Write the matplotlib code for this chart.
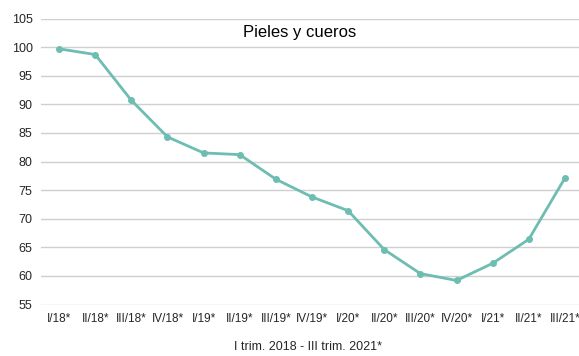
import matplotlib.pyplot as plt

plt.rcParams['font.family'] = ['Liberation Sans', 'DejaVu Sans']

# Quarterly index, leather and hides
quarters = ["I/18*", "II/18*", "III/18*", "IV/18*", "I/19*", "II/19*", "III/19*",
            "IV/19*", "I/20*", "II/20*", "III/20*", "IV/20*", "I/21*", "II/21*", "III/21*"]
index_values = [99.7, 98.7, 90.7, 84.3, 81.5, 81.2, 76.9,
                73.8, 71.4, 64.6, 60.4, 59.2, 62.2, 66.4, 77.1]
y_ticks = [55, 60, 65, 70, 75, 80, 85, 90, 95, 100, 105]

fig = plt.figure(figsize=(5.79, 3.56), dpi=100)
ax = fig.add_axes([41 / 579, 51.5 / 356, 538 / 579, 286 / 356])

x = list(range(len(quarters)))
ax.plot(x, index_values, color="#6dbdb2", linewidth=2, marker="o",
        markersize=4, zorder=3)

ax.set_xlim(-0.5, 14.39)
ax.set_ylim(55, 105)
ax.set_yticks(y_ticks)
ax.set_xticks(x)
ax.set_xticklabels(quarters, fontsize=8.5, color="#262626")
ax.tick_params(axis="y", labelsize=9, colors="#262626", length=0, pad=6)
ax.tick_params(axis="x", length=0, pad=6)
ax.grid(axis="y", color="#cfcfcf", linewidth=1)
ax.set_axisbelow(True)
for side in ax.spines.values():
    side.set_visible(False)

fig.text(300 / 579, 1 - 32 / 356, "Pieles y cueros", ha="center", va="center",
         fontsize=12, color="#000000")
fig.text(308 / 579, 1 - 347 / 356, "I trim. 2018 - III trim. 2021*", ha="center",
         va="center", fontsize=9, color="#262626")

fig.savefig("out.png", dpi=100)
